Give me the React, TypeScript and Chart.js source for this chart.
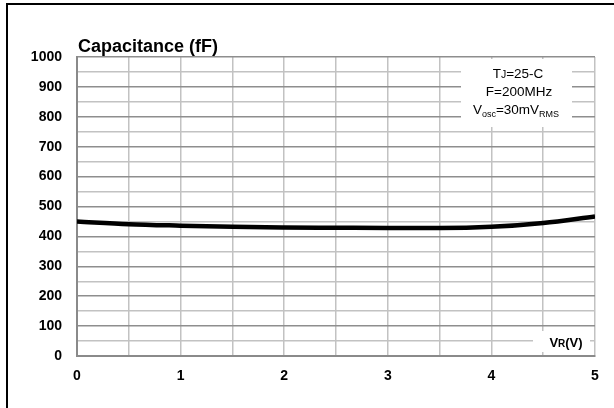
import React, { useEffect, useRef } from "react";
import { Chart, registerables } from "chart.js";

Chart.register(...registerables);

const voltages = [0, 0.5, 1, 1.5, 2, 2.5, 3, 3.5, 4, 4.5, 5];
const capacitance = [450, 441, 436, 432, 430, 429, 428, 428, 432, 445, 467];
const yTickLabels = [0, 100, 200, 300, 400, 500, 600, 700, 800, 900, 1000];
const xTickLabels = [0, 1, 2, 3, 4, 5];

const FONT = "'Liberation Sans', Arial, Helvetica, sans-serif";

type Seg = { t: string; size: number; dy?: number; bold?: boolean };

function drawRich(ctx: CanvasRenderingContext2D, segs: Seg[], cx: number, baseline: number) {
  let total = 0;
  const widths: number[] = [];
  for (const s of segs) {
    ctx.font = `${s.bold ? "bold " : ""}${s.size}px ${FONT}`;
    const w = ctx.measureText(s.t).width;
    widths.push(w);
    total += w;
  }
  let x = cx - total / 2;
  ctx.textBaseline = "alphabetic";
  ctx.textAlign = "left";
  segs.forEach((s, i) => {
    ctx.font = `${s.bold ? "bold " : ""}${s.size}px ${FONT}`;
    ctx.fillText(s.t, x, baseline + (s.dy || 0));
    x += widths[i];
  });
}

const decorPlugin = {
  id: "decor",
  beforeDraw(chart: any) {
    const ctx = chart.ctx as CanvasRenderingContext2D;
    ctx.save();
    ctx.fillStyle = "#fff";
    ctx.fillRect(0, 0, chart.width, chart.height);
    ctx.fillStyle = "#000";
    ctx.fillRect(6, 3, 2, chart.height - 3);
    ctx.fillRect(6, 3, chart.width - 6, 2);
    ctx.restore();
  },
  afterDraw(chart: any) {
    const ctx = chart.ctx as CanvasRenderingContext2D;
    const area = chart.chartArea;
    ctx.save();
    ctx.fillStyle = "#000";
    ctx.font = `bold 18px ${FONT}`;
    ctx.textAlign = "left";
    ctx.textBaseline = "alphabetic";
    ctx.fillText("Capacitance (fF)", area.left + 1, area.top - 5);

    // condition box
    ctx.fillStyle = "#fff";
    ctx.fillRect(461, area.top + 2, 111, 68);
    ctx.fillStyle = "#000";
    drawRich(ctx, [{ t: "T", size: 13.5 }, { t: "J", size: 10.5 }, { t: "=25-C", size: 13.5 }], 518, 78);
    drawRich(ctx, [{ t: "F=200MHz", size: 13.5 }], 519, 96);
    drawRich(
      ctx,
      [
        { t: "V", size: 13.5 },
        { t: "osc", size: 9, dy: 3 },
        { t: "=30mV", size: 13.5 },
        { t: "RMS", size: 9, dy: 3 },
      ],
      516,
      114
    );

    // axis title
    ctx.fillStyle = "#fff";
    ctx.fillRect(533, 331, 57, 21);
    ctx.fillStyle = "#000";
    drawRich(
      ctx,
      [
        { t: "V", size: 13, bold: true },
        { t: "R", size: 10, bold: true },
        { t: "(V)", size: 13, bold: true },
      ],
      566,
      347
    );
    ctx.restore();
  },
};

export default function App() {
  const ref = useRef<HTMLCanvasElement | null>(null);
  useEffect(() => {
    document.body.style.margin = "0";
    const canvas = ref.current!;
    const chart = new Chart(canvas, {
      type: "line",
      data: {
        datasets: [
          {
            data: voltages.map((v, i) => ({ x: v, y: capacitance[i] })),
            borderColor: "#000",
            borderWidth: 4.5,
            pointRadius: 0,
            tension: 0.4,
            cubicInterpolationMode: "monotone",
            fill: false,
          },
        ],
      },
      options: {
        animation: false,
        responsive: false,
        devicePixelRatio: 1,
        layout: { padding: { left: 7, right: 19, top: 57, bottom: 0 } },
        plugins: { legend: { display: false }, tooltip: { enabled: false } },
        scales: {
          x: {
            type: "linear",
            min: 0,
            max: 5,
            afterBuildTicks: (scale: any) => {
              const t: any[] = [];
              for (let i = 0; i <= 10; i++) t.push({ value: i * 0.5 });
              scale.ticks = t;
            },
            afterFit: (scale: any) => {
              scale.height = 52;
            },
            ticks: {
              autoSkip: false,
              maxRotation: 0,
              padding: 12,
              color: "#000",
              font: { family: FONT, size: 14, weight: "bold" },
              callback: (v: any) => (xTickLabels.includes(v) ? String(v) : ""),
            },
            grid: {
              drawTicks: false,
              color: "#c2c2c2",
              lineWidth: 1.5,
            },
            border: { display: true, color: "#8a8a8a", width: 2 },
          },
          y: {
            min: 0,
            max: 1000,
            afterBuildTicks: (scale: any) => {
              const t: any[] = [];
              for (let i = 0; i <= 20; i++) t.push({ value: i * 50 });
              scale.ticks = t;
            },
            afterFit: (scale: any) => {
              scale.width = 70;
            },
            ticks: {
              autoSkip: false,
              padding: 15,
              color: "#000",
              font: { family: FONT, size: 14, weight: "bold" },
              callback: (v: any) => (yTickLabels.includes(v) ? String(v) : ""),
            },
            grid: {
              drawTicks: false,
              color: (c: any) => (c.tick && c.tick.value % 100 === 0 ? "#8e8e8e" : "#c2c2c2"),
              lineWidth: 1.5,
            },
            border: { display: true, color: "#8a8a8a", width: 2 },
          },
        },
      } as any,
      plugins: [decorPlugin],
    });
    return () => chart.destroy();
  }, []);
  return <canvas ref={ref} width={614} height={408} style={{ display: "block", width: 614, height: 408 }} />;
}
